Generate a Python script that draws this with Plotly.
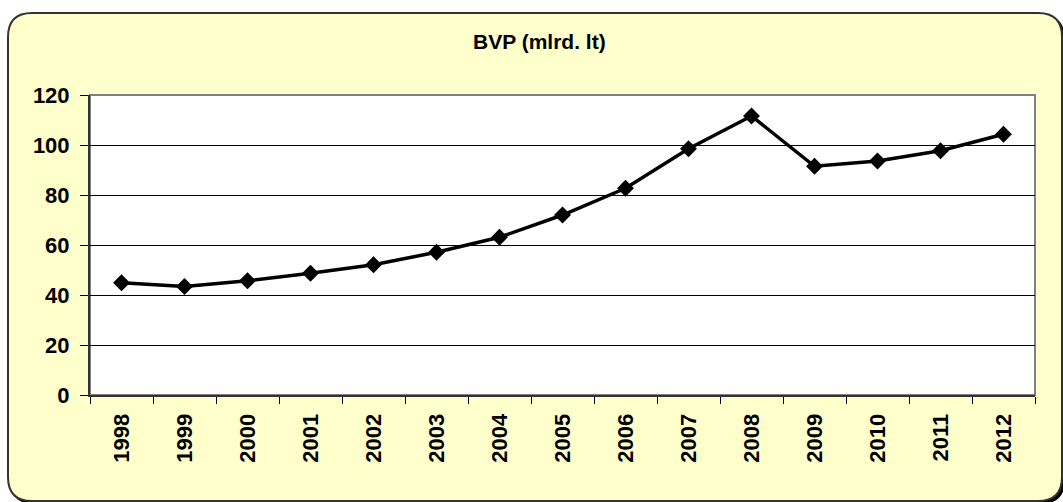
import plotly.graph_objects as go

years = ["1998", "1999", "2000", "2001", "2002", "2003", "2004", "2005",
         "2006", "2007", "2008", "2009", "2010", "2011", "2012"]
gdp = [44.9, 43.4, 45.7, 48.7, 52.1, 57.1, 63.1, 72.0, 82.7, 98.5,
       111.6, 91.5, 93.6, 97.7, 104.3]
y_ticks = [0, 20, 40, 60, 80, 100, 120]
title_text = "BVP (mlrd. lt)"

W, H = 1063, 502
L, R, T, B = 90, 1035, 95, 395  # plot area in pixels


def px(x):
    return (x - L) / (R - L)


def py(y):
    return (B - y) / (B - T)


def rounded_path(x0, y0, x1, y1, r):
    pts = [
        ("M", [(x0 + r, y0)]),
        ("L", [(x1 - r, y0)]),
        ("Q", [(x1, y0), (x1, y0 + r)]),
        ("L", [(x1, y1 - r)]),
        ("Q", [(x1, y1), (x1 - r, y1)]),
        ("L", [(x0 + r, y1)]),
        ("Q", [(x0, y1), (x0, y1 - r)]),
        ("L", [(x0, y0 + r)]),
        ("Q", [(x0, y0), (x0 + r, y0)]),
    ]
    s = ""
    for cmd, ps in pts:
        s += cmd + " ".join(f"{px(a):.5f},{py(b):.5f}" for a, b in ps) + " "
    return s + "Z"


FONT = "Liberation Sans, Arial, sans-serif"

fig = go.Figure()
fig.add_trace(go.Scatter(
    x=years, y=gdp, mode="lines+markers",
    line=dict(color="black", width=3.5),
    marker=dict(symbol="diamond", size=13, color="black"),
    cliponaxis=False, hoverinfo="x+y",
))

shapes = [
    dict(type="path", xref="paper", yref="paper", layer="below",
         path=rounded_path(10, 15, 1065, 504, 24),
         fillcolor="#000000", line=dict(width=0)),
    dict(type="path", xref="paper", yref="paper", layer="below",
         path=rounded_path(8, 13, 1062, 501, 24),
         fillcolor="#FFFFCC", line=dict(color="#333333", width=2)),
    dict(type="rect", xref="paper", yref="paper", layer="below",
         x0=0, x1=1, y0=0, y1=1,
         fillcolor="white", line=dict(color="#808080", width=2)),
]

fig.update_layout(
    width=W, height=H,
    margin=dict(l=L, r=W - R, t=T, b=H - B, pad=0),
    paper_bgcolor="white",
    plot_bgcolor="rgba(0,0,0,0)",
    showlegend=False,
    shapes=shapes,
    font=dict(family=FONT, color="black"),
    annotations=[dict(
        text="<b>" + title_text + "</b>", xref="paper", yref="paper",
        x=px(539), y=py(42), xanchor="center", yanchor="middle",
        showarrow=False, font=dict(size=21, family=FONT, color="black"),
    )],
    xaxis=dict(
        type="category", range=[-0.5, len(years) - 0.5],
        tickangle=-90, tickson="boundaries", ticks="outside", ticklen=7,
        tickcolor="black", tickwidth=1, ticklabelstandoff=8,
        showline=True, linecolor="#333333", linewidth=2,
        showgrid=False, zeroline=False,
        tickfont=dict(size=22, family=FONT, color="black", weight="bold"),
        fixedrange=True,
    ),
    yaxis=dict(
        range=[0, 120], tickvals=y_ticks, ticks="outside", ticklen=8,
        tickcolor="black", tickwidth=1, ticklabelstandoff=6,
        showline=True, linecolor="#333333", linewidth=2,
        showgrid=True, gridcolor="black", gridwidth=1,
        zeroline=False,
        tickfont=dict(size=22, family=FONT, color="black", weight="bold"),
        fixedrange=True,
    ),
)

fig.write_html("out.html", config={"displayModeBar": False},
               post_script="document.body.style.margin='0';")
